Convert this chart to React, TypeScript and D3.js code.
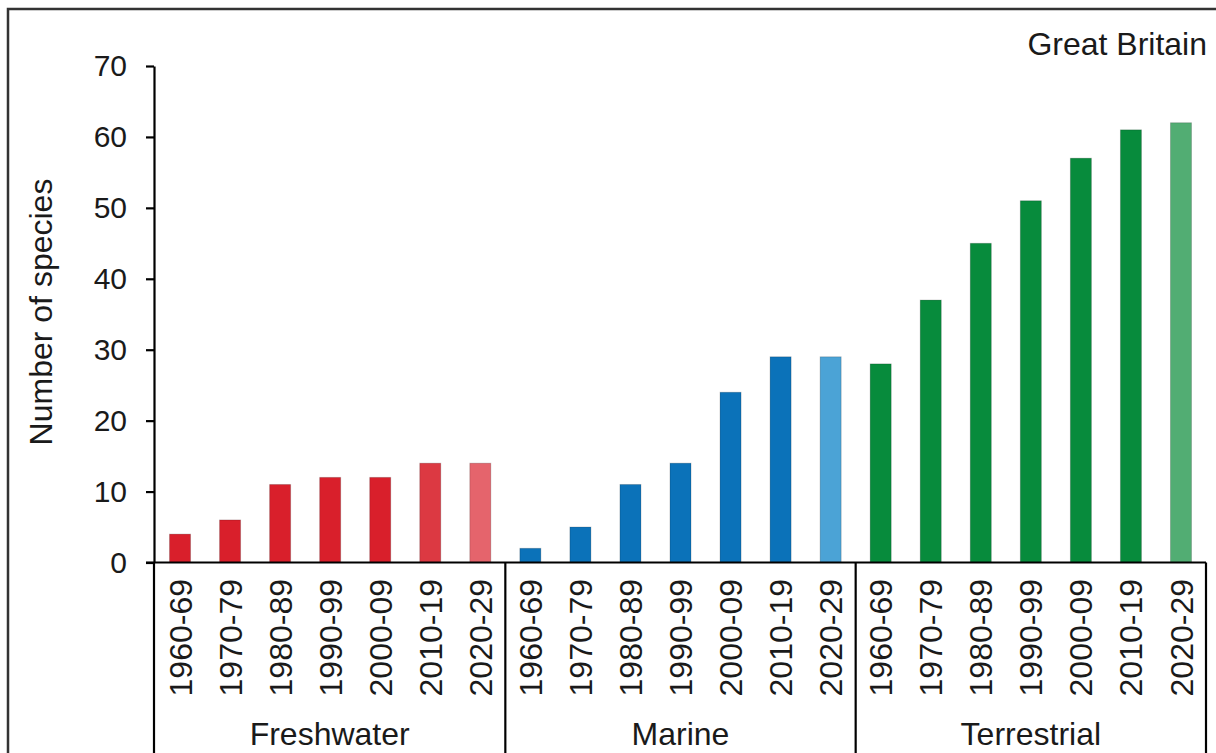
import React, { useEffect, useRef } from "react";
import * as d3 from "d3";

const groups = ["Freshwater", "Marine", "Terrestrial"];
const decades = ["1960-69", "1970-79", "1980-89", "1990-99", "2000-09", "2010-19", "2020-29"];

const freshwater = [4, 6, 11, 12, 12, 14, 14];
const marine = [2, 5, 11, 14, 24, 29, 29];
const terrestrial = [28, 37, 45, 51, 57, 61, 62];

const yTicks = [0, 10, 20, 30, 40, 50, 60, 70];

// one colour per decade, the last decades lighter
const freshwaterColors = ["#d91f2b", "#d91f2b", "#d91f2b", "#d91f2b", "#d91f2b", "#dc3942", "#e5646c"];
const marineColors = ["#0b72b9", "#0b72b9", "#0b72b9", "#0b72b9", "#0b72b9", "#0b72b9", "#4ba3d6"];
const terrestrialColors = ["#078b3c", "#078b3c", "#078b3c", "#078b3c", "#078b3c", "#078b3c", "#52ad73"];

const FONT = "Liberation Sans, Arial, sans-serif";

const App = () => {
  const chartRef = useRef(null);
  const width = 1216;
  const height = 753;
  const marginLeft = 154;
  const marginRight = 10;
  const marginTop = 66;
  const baseY = 562.5;

  useEffect(() => {
    if (!chartRef.current) return;

    const seriesValues = [freshwater, marine, terrestrial];
    const seriesColors = [freshwaterColors, marineColors, terrestrialColors];
    const data = groups.flatMap((g, gi) =>
      decades.map((d, di) => ({
        key: `${g}-${d}`,
        group: g,
        decade: d,
        value: seriesValues[gi][di],
        color: seriesColors[gi][di],
      }))
    );

    const x = d3
      .scaleBand()
      .domain(data.map((d) => d.key))
      .range([marginLeft + 1, width - marginRight])
      .paddingInner(0.58)
      .paddingOuter(0.29);

    const y = d3.scaleLinear([0, 70], [baseY, marginTop]);

    const svg = d3
      .select(chartRef.current)
      .attr("width", width)
      .attr("height", height)
      .attr("viewBox", [0, 0, width, height])
      .style("font-family", FONT);

    svg.selectAll("*").remove();

    // outer frame (runs off the right and bottom of the picture)
    svg
      .append("rect")
      .attr("x", 8)
      .attr("y", 9)
      .attr("width", width + 20)
      .attr("height", height + 20)
      .attr("fill", "#fff")
      .attr("stroke", "#333")
      .attr("stroke-width", 2.5);

    // bars
    svg
      .append("g")
      .selectAll("rect")
      .data(data)
      .join("rect")
      .attr("x", (d) => x(d.key))
      .attr("y", (d) => y(d.value))
      .attr("width", x.bandwidth())
      .attr("height", (d) => y(0) - y(d.value))
      .attr("fill", (d) => d.color)
      .attr("stroke", "rgba(0,0,0,0.18)")
      .attr("stroke-width", 1);

    // y-axis
    svg
      .append("g")
      .attr("transform", `translate(${marginLeft},0)`)
      .call(d3.axisLeft(y).tickValues(yTicks).tickSize(8).tickSizeOuter(0).tickPadding(19))
      .call((g) => g.select(".domain").attr("stroke", "#000").attr("stroke-width", 2.2))
      .call((g) => g.selectAll(".tick line").attr("stroke", "#000").attr("stroke-width", 2.2))
      .call((g) =>
        g
          .selectAll(".tick text")
          .attr("font-family", FONT)
          .attr("font-size", 30)
          .attr("fill", "#1a1a1a")
      );

    // group boundaries and the x-axis line
    const groupEdges = groups.map((g) => {
      const keys = decades.map((d) => `${g}-${d}`);
      const first = x(keys[0]);
      const last = x(keys[keys.length - 1]) + x.bandwidth();
      const gap = x.step() - x.bandwidth();
      return { group: g, x0: first - gap / 2, x1: last + gap / 2 };
    });
    groupEdges[0].x0 = marginLeft;

    svg
      .append("line")
      .attr("x1", marginLeft - 8)
      .attr("x2", groupEdges[groupEdges.length - 1].x1)
      .attr("y1", baseY)
      .attr("y2", baseY)
      .attr("stroke", "#000")
      .attr("stroke-width", 2.2);

    const edgeXs = [groupEdges[0].x0, ...groupEdges.map((e) => e.x1)];
    svg
      .append("g")
      .selectAll("line")
      .data(edgeXs)
      .join("line")
      .attr("x1", (d) => d)
      .attr("x2", (d) => d)
      .attr("y1", baseY)
      .attr("y2", height + 5)
      .attr("stroke", "#000")
      .attr("stroke-width", 2.2);

    // rotated decade labels
    svg
      .append("g")
      .selectAll("text")
      .data(data)
      .join("text")
      .attr(
        "transform",
        (d) => `translate(${x(d.key) + x.bandwidth() / 2},579) rotate(-90)`
      )
      .attr("text-anchor", "end")
      .attr("dy", "0.36em")
      .attr("font-size", 32)
      .attr("fill", "#1a1a1a")
      .text((d) => d.decade);

    // group labels
    svg
      .append("g")
      .selectAll("text")
      .data(groupEdges)
      .join("text")
      .attr("x", (d) => (d.x0 + d.x1) / 2)
      .attr("y", 745)
      .attr("text-anchor", "middle")
      .attr("font-size", 32)
      .attr("fill", "#1a1a1a")
      .text((d) => d.group);

    // y-axis title
    svg
      .append("text")
      .attr("transform", `translate(52,312) rotate(-90)`)
      .attr("text-anchor", "middle")
      .attr("font-size", 32)
      .attr("fill", "#1a1a1a")
      .text("Number of species");

    // region label
    svg
      .append("text")
      .attr("x", 1207)
      .attr("y", 55)
      .attr("text-anchor", "end")
      .attr("font-size", 32)
      .attr("fill", "#1a1a1a")
      .text("Great Britain");
  }, [chartRef]);

  return (
    <div style={{ position: "absolute", left: 0, top: 0 }}>
      <svg ref={chartRef} style={{ display: "block" }} />
    </div>
  );
};

export default App;
